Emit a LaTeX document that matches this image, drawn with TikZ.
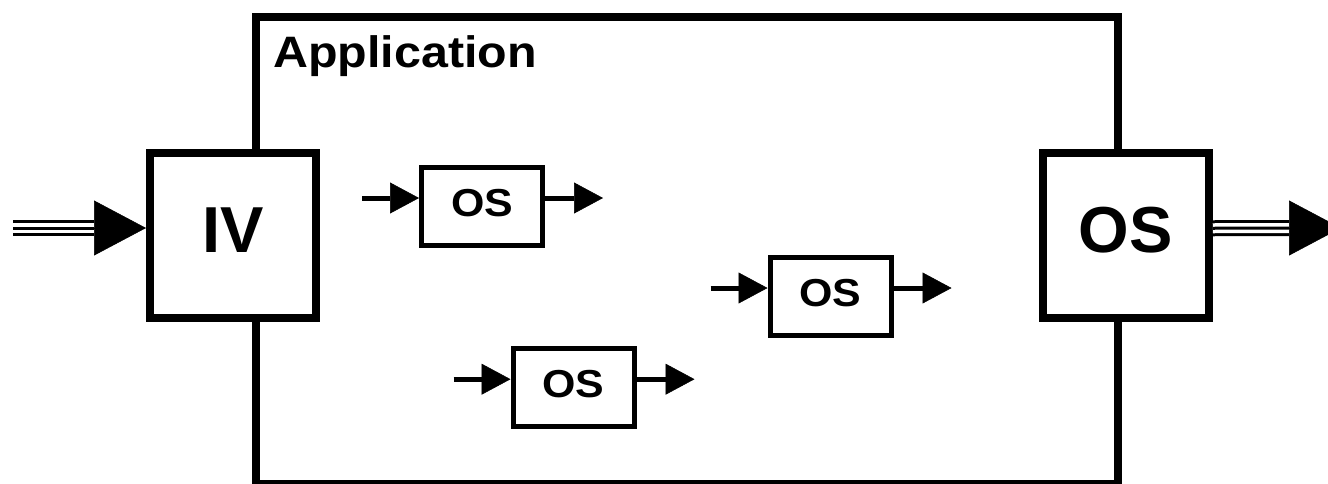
\documentclass[tikz,border=0pt]{standalone}
\usepackage{fontspec}
\setmainfont{Liberation Sans}
\usetikzlibrary{arrows.meta}
\begin{document}
\begin{tikzpicture}[x=1pt, y=-1pt,
  frame/.style={draw, line width=8pt, fill=white, inner sep=0pt},
  bigbox/.style={frame, minimum width=166pt, minimum height=165pt,
    font=\fontsize{65pt}{65pt}\selectfont\bfseries,
    text height=46.7pt, text depth=12.1pt},
  smallbox/.style={draw, line width=5pt, fill=white, inner sep=0pt,
    minimum width=121pt, minimum height=78pt,
    font=\fontsize{39pt}{39pt}\selectfont\bfseries,
    text height=27.9pt, text depth=8.9pt},
  flow/.style={line width=5pt, -{Triangle[length=29pt, width=31pt, line width=0.5pt]}},
  triple/.style={line width=16pt, draw=black,
    postaction={draw=white, line width=10pt},
    postaction={draw=black, line width=3pt}},
  bigtip/.style={line width=0.5pt, -{Triangle[length=52pt, width=55pt, line width=0.5pt]}},
  title/.style={anchor=base west, inner sep=0pt,
    font=\fontsize{44pt}{44pt}\selectfont\bfseries}
]
\useasboundingbox (0,0) rectangle (1328,483);

% enclosing application frame
\node[frame, minimum width=861.5pt, minimum height=467.5pt] (app) at (686.75,250.25) {};
\node[title] (apptitle) at (273,67) {\scalebox{1.1}[1]{Application}};

% input and output stages
\node[bigbox] (iv) at (233,235) {IV};
\node[bigbox] (out) at (1125.75,235.25) {OS};

% inner stages
\node[smallbox] (s1) at (482,206.5) {\scalebox{1.1}[1]{OS}};
\node[smallbox] (s2) at (830.5,296.5) {\scalebox{1.1}[1]{OS}};
\node[smallbox] (s3) at (573.5,387.7) {\scalebox{1.1}[1]{OS}};

% incoming bundle
\coordinate (src) at (13,228);
\draw[triple] (src) -- ([xshift=-52pt,yshift=7pt]iv.west);
\draw[bigtip] ([xshift=-52pt,yshift=7pt]iv.west) -- ([yshift=7pt]iv.west);

% outgoing bundle
\coordinate (sink) at (1341,228);
\draw[triple] ([yshift=7pt]out.east) -- ([xshift=-52pt]sink);
\draw[bigtip] ([xshift=-52pt]sink) -- (sink);

% flows through the inner stages
\foreach \s in {s1,s2,s3}{
  \draw[flow] ([xshift=-57pt,yshift=8.5pt]\s.west) -- ([yshift=8.5pt]\s.west);
  \draw[flow] ([yshift=8.5pt]\s.east) -- ([xshift=58pt,yshift=8.5pt]\s.east);
}
\end{tikzpicture}
\end{document}
